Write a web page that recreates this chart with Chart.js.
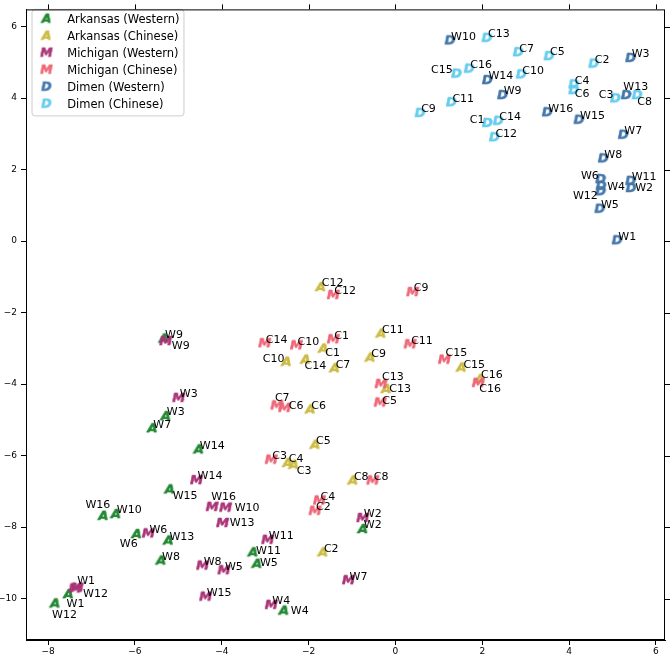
<!DOCTYPE html>
<html>
<head>
<meta charset="utf-8">
<script src="https://cdn.jsdelivr.net/npm/chart.js@4.4.0/dist/chart.umd.min.js"></script>
<style>
  html, body { margin: 0; padding: 0; background: #fff; }
</style>
</head>
<body>
<canvas id="myChart" width="670" height="654"></canvas>
<script>
// point names
const westernNames = ['W1','W2','W3','W4','W5','W6','W7','W8','W9','W10','W11','W12','W13','W14','W15','W16'];
const chineseNames = ['C1','C2','C3','C4','C5','C6','C7','C8','C9','C10','C11','C12','C13','C14','C15','C16'];

// values
const arkansasWesternX = [-7.53, -0.75, -5.29, -2.57, -3.19, -5.96, -5.60, -5.40, -5.33, -6.44, -3.28, -7.84, -5.23, -4.53, -5.20, -6.73];
const arkansasWesternY = [-9.89, -8.07, -4.91, -10.35, -9.04, -8.21, -5.25, -8.95, -2.74, -7.65, -8.72, -10.15, -8.39, -5.84, -6.96, -7.70];

const arkansasChineseX = [-1.66, -1.67, -2.34, -2.48, -1.85, -1.96, -1.40, -0.98, -0.58, -2.51, -0.33, -1.72, -0.21, -2.07, 1.52, 1.95];
const arkansasChineseY = [-3.02, -8.72, -6.27, -6.22, -5.71, -4.72, -3.57, -6.71, -3.27, -3.39, -2.60, -1.30, -4.15, -3.33, -3.55, -3.87];

const michiganWesternX = [-7.33, -0.75, -4.99, -2.86, -3.95, -5.69, -1.08, -4.44, -5.29, -3.91, -2.94, -7.38, -3.98, -4.58, -4.37, -4.22];
const michiganWesternY = [-9.71, -7.76, -4.40, -10.19, -9.22, -8.19, -9.50, -9.09, -2.81, -7.47, -8.37, -9.73, -7.90, -6.70, -9.96, -7.45];

const michiganChineseX = [-1.43, -1.85, -2.86, -1.75, -0.35, -2.55, -2.73, -0.52, 0.40, -2.28, 0.34, -1.43, -0.33, -3.01, 1.13, 1.91];
const michiganChineseY = [-2.76, -7.56, -6.13, -7.27, -4.53, -4.68, -4.61, -6.71, -1.44, -2.93, -2.90, -1.52, -4.01, -2.87, -3.33, -3.98];

const dimenWesternX = [5.11, 5.43, 5.42, 4.74, 4.71, 4.73, 5.25, 4.79, 2.47, 1.26, 5.42, 4.73, 5.32, 2.12, 4.23, 3.50];
const dimenWesternY = [0.01, 1.47, 5.11, 1.53, 0.89, 1.72, 2.96, 2.30, 4.07, 5.60, 1.67, 1.38, 4.07, 4.49, 3.38, 3.59];

const dimenChineseX = [2.12, 4.57, 5.07, 4.11, 3.54, 4.11, 2.83, 5.57, 0.57, 2.90, 1.29, 2.28, 2.11, 2.37, 1.41, 1.70];
const dimenChineseY = [3.29, 4.95, 3.98, 4.37, 5.16, 4.21, 5.27, 4.07, 3.57, 4.65, 3.87, 2.89, 5.67, 3.35, 4.67, 4.81];

const xTicks = [-8, -6, -4, -2, 0, 2, 4, 6];
const yTicks = [-10, -8, -6, -4, -2, 0, 2, 4, 6];

// label nudges in pixels [dx, dy, align], default is [1, -4, 'left']
const labelNudge = {
   arkW: { W15: [3, 6], W16: [7, -11, 'right'], W6: [1, 10, 'right'], W1: [-2, 10], W12: [-3, 11], W11: [3, -2], W5: [3, -1], W4: [7, 0] },
   arkC: { C1: [2, 4], C10: [-2, -3, 'right'], C14: [-1, 6], C15: [2, -3], C13: [3, 0], C3: [3, 6] },
   micW: { W9: [6, 5], W16: [-1, -10], W10: [9, 0], W13: [7, 0], W12: [8, 5], W1: [0, -7] },
   micC: { C7: [-2, -8], C6: [4, -2], C15: [1, -7], C16: [1, 6], C13: [1, -7], C5: [2, -2] },
   dimW: { W13: [-3, -8], W4: [6, 1], W2: [4, 0], W6: [-2, -3, 'right'], W12: [-3, 4, 'right'] },
   dimC: { C15: [-4, -4, 'right'], C3: [-2, -4, 'right'], C8: [0, 7], C1: [-3, -3, 'right'], C6: [1, 4] }
};

// letter markers
function letterMarker(letter, color, size) {
   const c = document.createElement('canvas');
   c.width = size + 6;
   c.height = size + 6;
   const g = c.getContext('2d');
   g.font = 'italic bold ' + size + 'px "DejaVu Sans"';
   g.textAlign = 'center';
   g.textBaseline = 'middle';
   g.fillStyle = color;
   g.strokeStyle = color;
   g.lineWidth = 0.6;
   g.fillText(letter, c.width / 2, c.height / 2);
   g.strokeText(letter, c.width / 2, c.height / 2);
   return c;
}

const series = [
   { key: 'arkW', label: 'Arkansas (Western)', letter: 'A', color: '#228833', xs: arkansasWesternX, ys: arkansasWesternY, names: westernNames },
   { key: 'arkC', label: 'Arkansas (Chinese)', letter: 'A', color: '#CCBB44', xs: arkansasChineseX, ys: arkansasChineseY, names: chineseNames },
   { key: 'micW', label: 'Michigan (Western)', letter: 'M', color: '#AA3377', xs: michiganWesternX, ys: michiganWesternY, names: westernNames },
   { key: 'micC', label: 'Michigan (Chinese)', letter: 'M', color: '#EE6677', xs: michiganChineseX, ys: michiganChineseY, names: chineseNames },
   { key: 'dimW', label: 'Dimen (Western)', letter: 'D', color: '#4477AA', xs: dimenWesternX, ys: dimenWesternY, names: westernNames },
   { key: 'dimC', label: 'Dimen (Chinese)', letter: 'D', color: '#66CCEE', xs: dimenChineseX, ys: dimenChineseY, names: chineseNames }
];

const datasets = series.map((s, i) => ({
   label: s.label,
   key: s.key,
   names: s.names,
   data: s.xs.map((x, j) => ({ x: x, y: s.ys[j] })),
   pointStyle: letterMarker(s.letter, s.color, 13),
   legendMarker: letterMarker(s.letter, s.color, 12.5),
   backgroundColor: s.color,
   borderColor: s.color,
   order: series.length - i
}));

const minusFmt = (v) => v < 0 ? '\u2212' + (-v) : String(v);

// texts next to points
const pointLabels = {
   id: 'pointLabels',
   afterDatasetsDraw(chart) {
      const ctx = chart.ctx;
      ctx.save();
      ctx.font = '11px "DejaVu Sans"';
      ctx.fillStyle = '#000';
      ctx.textBaseline = 'middle';
      chart.data.datasets.forEach((ds, i) => {
         const meta = chart.getDatasetMeta(i);
         meta.data.forEach((pt, j) => {
            const name = ds.names[j];
            const n = labelNudge[ds.key][name] || [1, -4];
            ctx.textAlign = n[2] || 'left';
            ctx.fillText(name, pt.x + n[0], pt.y + n[1]);
         });
      });
      ctx.restore();
   }
};

// frame, top/right ticks, legend box
const frame = {
   id: 'frame',
   beforeDraw(chart) {
      const lg = chart.legend;
      if (!lg || !lg.legendHitBoxes.length) return;
      const hb = lg.legendHitBoxes;
      const l = hb[0].left;
      const t = hb[0].top - 5;
      let r = 0;
      hb.forEach(h => { r = Math.max(r, h.left + h.width); });
      const last = hb[hb.length - 1];
      const b = last.top + last.height + 5;
      const ctx = chart.ctx;
      ctx.save();
      ctx.beginPath();
      ctx.roundRect(l + 0.5, t + 0.5, r + 4 - l, b - t, 3);
      ctx.fillStyle = 'rgba(255,255,255,0.8)';
      ctx.fill();
      ctx.strokeStyle = '#cccccc';
      ctx.lineWidth = 1;
      ctx.stroke();
      ctx.restore();
   },
   afterDraw(chart) {
      const a = chart.chartArea;
      const ctx = chart.ctx;
      ctx.save();
      ctx.strokeStyle = '#000';
      ctx.lineWidth = 1;
      ctx.strokeRect(a.left + 0.5, a.top + 0.5, a.right - a.left - 1, a.bottom - a.top - 1);
      ctx.beginPath();
      xTicks.forEach(v => {
         const px = Math.round(chart.scales.x.getPixelForValue(v)) + 0.5;
         ctx.moveTo(px, a.top);
         ctx.lineTo(px, a.top - 5);
      });
      yTicks.forEach(v => {
         const py = Math.round(chart.scales.y.getPixelForValue(v)) + 0.5;
         ctx.moveTo(a.right, py);
         ctx.lineTo(a.right + 5, py);
      });
      ctx.stroke();
      ctx.restore();
   }
};

const config = {
   type: 'scatter',
   data: { datasets: datasets },
   options: {
      responsive: false,
      animation: false,
      devicePixelRatio: 1,
      layout: { padding: { left: 0, top: 3, right: 4, bottom: 0 } },
      scales: {
         x: {
            type: 'linear',
            min: -8.51,
            max: 6.21,
            afterBuildTicks: (scale) => { scale.ticks = xTicks.map(v => ({ value: v })); },
            afterFit: (scale) => { scale.height = 14; },
            grid: { drawOnChartArea: false, drawTicks: true, tickLength: 5, tickColor: '#000' },
            border: { display: true, color: '#000', width: 1 },
            ticks: { color: '#000', font: { family: 'DejaVu Sans', size: 9 }, padding: 1, maxRotation: 0, autoSkip: false, callback: minusFmt }
         },
         y: {
            type: 'linear',
            min: -11.16,
            max: 6.48,
            afterBuildTicks: (scale) => { scale.ticks = yTicks.map(v => ({ value: v })); },
            afterFit: (scale) => { scale.width = 26; },
            grid: { drawOnChartArea: false, drawTicks: true, tickLength: 5, tickColor: '#000' },
            border: { display: true, color: '#000', width: 1 },
            ticks: { color: '#000', font: { family: 'DejaVu Sans', size: 9 }, padding: 4, autoSkip: false, callback: minusFmt }
         }
      },
      plugins: {
         tooltip: { enabled: false },
         legend: {
            position: 'chartArea',
            align: 'start',
            title: { display: true, text: '', padding: 0, font: { size: 7 } },
            labels: {
               usePointStyle: true,
               pointStyleWidth: 30,
               padding: 5.5,
               color: '#000',
               font: { family: 'DejaVu Sans', size: 11.5 },
               sort: (a, b) => a.datasetIndex - b.datasetIndex,
               generateLabels: (chart) => {
                  const items = Chart.defaults.plugins.legend.labels.generateLabels(chart);
                  items.forEach(it => { it.pointStyle = chart.data.datasets[it.datasetIndex].legendMarker; });
                  return items;
               }
            }
         }
      }
   },
   plugins: [pointLabels, frame]
};

const myChart = new Chart(document.getElementById('myChart'), config);
</script>
</body>
</html>
